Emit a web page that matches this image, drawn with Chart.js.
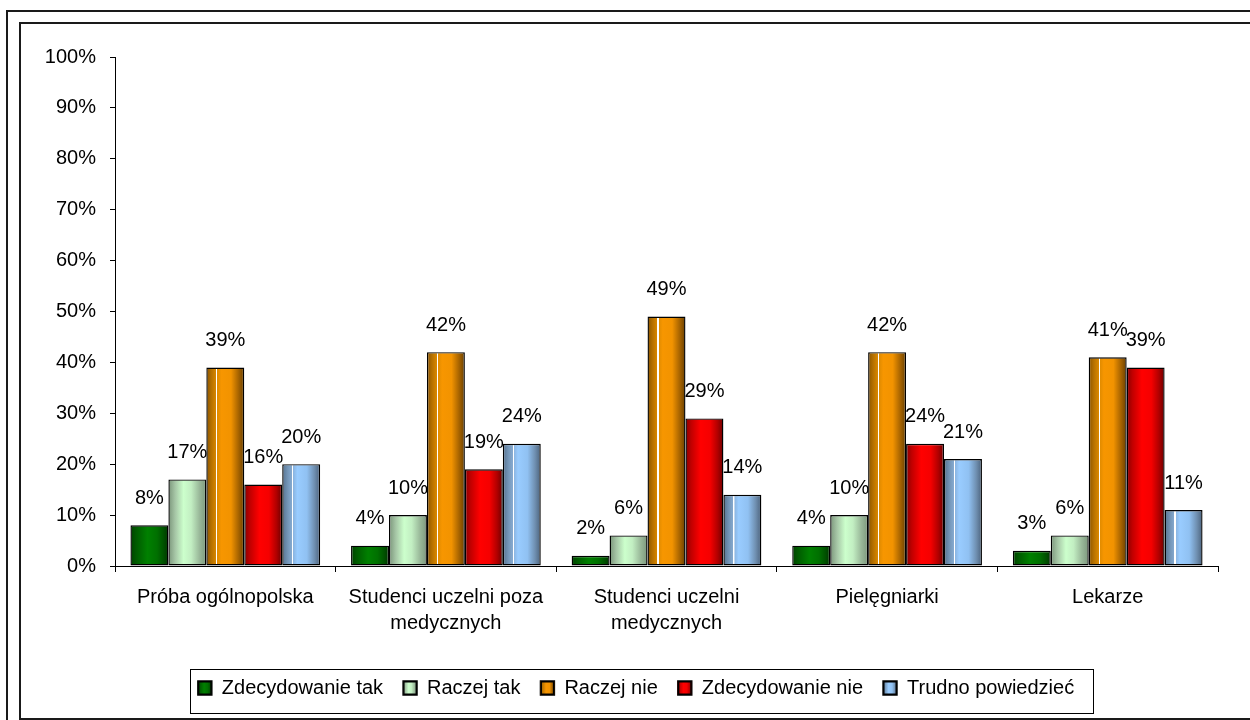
<!DOCTYPE html>
<html>
<head>
<meta charset="utf-8">
<script src="https://cdn.jsdelivr.net/npm/chart.js@4.4.1/dist/chart.umd.min.js"></script>
<style>
  html, body { margin: 0; padding: 0; background: #fff; width: 1250px; height: 720px; overflow: hidden; }
  .frame { position: absolute; box-sizing: border-box; border: 2px solid #1a1a1a; }
  #outer { left: 6px; top: 10px; width: 1300px; height: 800px; }
  #inner { left: 19px; top: 22px; width: 1300px; height: 698px; }
  #wrap { position: absolute; left: 0; top: 0; width: 1250px; height: 720px; }
</style>
</head>
<body>
<div class="frame" id="outer"></div>
<div class="frame" id="inner"></div>
<div id="wrap"><canvas id="c" width="1250" height="720"></canvas></div>
<script>
const categories = [
  'Próba ogólnopolska',
  ['Studenci uczelni poza', 'medycznych'],
  ['Studenci uczelni', 'medycznych'],
  'Pielęgniarki',
  'Lekarze'
];
const seriesNames = ['Zdecydowanie tak', 'Raczej tak', 'Raczej nie', 'Zdecydowanie nie', 'Trudno powiedzieć'];
const zdecydowanieTak = [8, 4, 2, 4, 3];
const raczejTak = [17, 10, 6, 10, 6];
const raczejNie = [39, 42, 49, 42, 41];
const zdecydowanieNie = [16, 19, 29, 24, 39];
const trudnoPowiedziec = [20, 24, 14, 21, 11];
const yTicks = [0, 10, 20, 30, 40, 50, 60, 70, 80, 90, 100];

const FONT = "'Liberation Sans', Arial, sans-serif";

// gradient stop schemes (fraction across bar width)
const schemes = [
  { base: '#007000', white: false, stops: [[0,'#004200'],[0.15,'#005a00'],[0.45,'#008000'],[0.7,'#007000'],[0.88,'#005000'],[1,'#003600']] },
  { base: '#ccffcc', white: false, stops: [[0,'#7a957a'],[0.18,'#a6c6a6'],[0.4,'#ccffcc'],[0.6,'#c2eec2'],[0.82,'#99b899'],[1,'#7c977c']] },
  { base: '#ff9900', white: true, near: ['#d88700', '#e08b00'], stops: [[0,'#8a5400'],[0.14,'#b87200'],[0.4,'#f79600'],[0.65,'#f29300'],[0.85,'#a66300'],[1,'#6a4000']] },
  { base: '#ff0000', white: false, stops: [[0,'#880000'],[0.15,'#c00000'],[0.4,'#ff0000'],[0.65,'#f50000'],[0.85,'#b00000'],[1,'#6c0000']] },
  { base: '#99ccff', white: true, near: ['#86aad0', '#8ab4e0'], stops: [[0,'#56728f'],[0.15,'#7496b8'],[0.4,'#99ccff'],[0.65,'#90c1f2'],[0.85,'#6f8fb0'],[1,'#4b627c']] }
];

function makeGrad(ctx, x0, w, scheme, allowWhite) {
  const g = ctx.createLinearGradient(x0, 0, x0 + w, 0);
  scheme.stops.forEach(s => g.addColorStop(s[0], s[1]));
  if (allowWhite && scheme.white && w > 12) {
    const p = 0.26, q = p + 1.2 / w;
    g.addColorStop(p - 0.001, scheme.near[0]);
    g.addColorStop(p, '#ffffff');
    g.addColorStop(q, '#ffffff');
    g.addColorStop(q + 0.001, scheme.near[1]);
  }
  return g;
}

const LEGEND_SHIFT = 17;

const gradientPlugin = {
  id: 'gradBars',
  afterLayout(chart) {
    if (chart.legend) {
      chart.legend.left += LEGEND_SHIFT;
      chart.legend.right += LEGEND_SHIFT;
    }
  },
  beforeDatasetsDraw(chart) {
    const ctx = chart.ctx;
    chart.data.datasets.forEach((ds, di) => {
      const meta = chart.getDatasetMeta(di);
      meta.data.forEach(el => {
        const w = el.width;
        const g = makeGrad(ctx, el.x - w / 2, w, schemes[di], true);
        el.options = Object.assign({}, el.options, { backgroundColor: g });
      });
    });
  },
  afterDatasetsDraw(chart) {
    const ctx = chart.ctx;
    ctx.save();
    ctx.font = '20px ' + FONT;
    ctx.fillStyle = '#000';
    ctx.textAlign = 'center';
    ctx.textBaseline = 'middle';
    chart.data.datasets.forEach((ds, di) => {
      const meta = chart.getDatasetMeta(di);
      meta.data.forEach((el, i) => {
        ctx.fillText(ds.data[i] + '%', el.x, el.y - 27);
      });
    });
    ctx.restore();
  },
  afterDraw(chart) {
    const lg = chart.legend;
    if (!lg || !lg.legendHitBoxes || !lg.legendHitBoxes.length) return;
    const ctx = chart.ctx;
    const hb = lg.legendHitBoxes;
    ctx.save();
    hb.forEach((b, i) => {
      const cy = b.top + b.height / 2;
      const x = b.left, y = Math.round(cy - 7);
      ctx.fillStyle = makeGrad(ctx, x, 14, schemes[i], false);
      ctx.fillRect(x, y, 14, 14);
      ctx.strokeStyle = '#000';
      ctx.lineWidth = 1.5;
      ctx.strokeRect(x + 0.75, y + 0.75, 12.5, 12.5);
    });
    const first = hb[0], last = hb[hb.length - 1];
    const cy = first.top + first.height / 2;
    const left = first.left - 8, right = last.left + last.width + 19;
    const top = cy - 19, bottom = cy + 25;
    ctx.strokeStyle = '#000';
    ctx.lineWidth = 1;
    ctx.strokeRect(Math.round(left) + 0.5, Math.round(top) + 0.5, Math.round(right - left), Math.round(bottom - top));
    ctx.restore();
  }
};

const datasets = [zdecydowanieTak, raczejTak, raczejNie, zdecydowanieNie, trudnoPowiedziec].map((arr, i) => ({
  label: seriesNames[i],
  data: arr,
  backgroundColor: schemes[i].base,
  borderColor: '#000',
  borderWidth: 1.4,
  borderSkipped: false,
  categoryPercentage: 0.86,
  barPercentage: 1.0
}));

new Chart(document.getElementById('c'), {
  type: 'bar',
  data: { labels: categories, datasets },
  options: {
    responsive: false,
    animation: false,
    events: [],
    layout: { padding: { left: 20, right: 32, top: 57, bottom: 12 } },
    plugins: {
      tooltip: { enabled: false },
      legend: {
        position: 'bottom',
        labels: {
          font: { family: FONT, size: 20 },
          color: '#000',
          boxWidth: 14,
          boxHeight: 14,
          padding: 20
        }
      }
    },
    scales: {
      x: {
        afterFit(scale) { scale.height = 92; },
        grid: { drawOnChartArea: false, drawTicks: true, tickLength: 6, color: '#000', offset: true },
        border: { color: '#000', width: 1 },
        ticks: {
          font: { family: FONT, size: 20, lineHeight: 1.3 },
          color: '#000',
          padding: 12,
          maxRotation: 0,
          autoSkip: false
        }
      },
      y: {
        min: 0,
        max: 100,
        afterFit(scale) { scale.width = 95; },
        afterBuildTicks(scale) { scale.ticks = yTicks.map(v => ({ value: v })); },
        grid: { drawOnChartArea: false, drawTicks: true, tickLength: 5, color: '#000' },
        border: { color: '#000', width: 1 },
        ticks: {
          font: { family: FONT, size: 20 },
          color: '#000',
          padding: 14,
          callback: v => v + '%'
        }
      }
    }
  },
  plugins: [gradientPlugin]
});
</script>
</body>
</html>
